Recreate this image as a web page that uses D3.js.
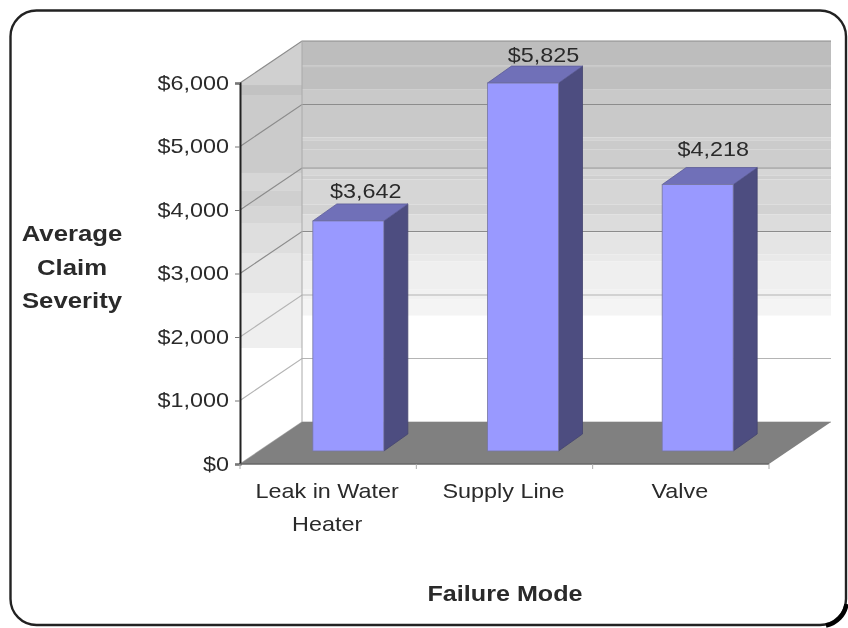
<!DOCTYPE html>
<html><head><meta charset="utf-8">
<script src="https://cdn.jsdelivr.net/npm/d3@7/dist/d3.min.js"></script>
<style>html,body{margin:0;background:#fff}svg{display:block;filter:blur(.75px)}text{font-family:"Liberation Sans",Arial,sans-serif;fill:#2a2a2a}</style>
</head><body><svg id="c" width="848" height="628"></svg>
<script>
const categories = ["Leak in Water Heater", "Supply Line", "Valve"];
const categoryLines = [["Leak in Water", "Heater"], ["Supply Line"], ["Valve"]];
const severity = [3642, 5825, 4218];
const tickValues = [0, 1000, 2000, 3000, 4000, 5000, 6000];
const yTitle = ["Average", "Claim", "Severity"];
const xTitle = "Failure Mode";
// wall shading: value at which each band starts (top to bottom) and its grey
const bandStarts = [6000, 5621, 5590, 5242, 4484, 4437, 4295, 4011, 3884, 3821, 3426, 3268, 2984, 2637, 2526, 2084, 1926, 1674];
const bandGreys = ["#bdbdbd", "#c8c8c8", "#bfbfbf", "#c9c9c9", "#d2d2d2", "#cbcbcb", "#cdcdcd", "#d6d6d6", "#cfcfcf", "#d6d6d6", "#d2d2d2", "#dcdcdc", "#e5e5e5", "#e9e9e9", "#efefef", "#f1f1f1", "#f4f4f4", "#ffffff"];
const sideStarts = [6000, 5968, 5811, 4583, 4300, 4050, 3795, 3323, 2693, 1827];
const sideGreys = ["#d0d0d0", "#c2c2c2", "#cbcbcb", "#d6d6d6", "#cfcfcf", "#d6d6d6", "#dedede", "#e6e6e6", "#efefef", "#ffffff"];
// small per-label nudges
const labelRise = [6, 4, 12];
const labelShift = [53, 56, 51];

const svg = d3.select("#c");
const plotLeft = 240, plotRight = 769, depthX = 62, depthY = 42;
const stretch = 1.17;
const y = d3.scaleLinear().domain([0, 6000]).range([464, 83]);
const barH = d3.scaleLinear().domain([0, 6000]).range([0, 379]);
const x = d3.scaleBand().domain(categories).range([plotLeft - 1, plotRight - 1]);
const barX = d3.scaleBand().domain(categories).range([261, 785]);
const barW = 71, barDX = 24, barDY = 17, barBase = 451;

// frame
svg.append("rect").attr("x", 10.5).attr("y", 10.5).attr("width", 835.5).attr("height", 614.5).attr("rx", 26)
  .attr("fill", "#fff").attr("stroke", "#222").attr("stroke-width", 2.4);
svg.append("path").attr("d", "M 826 625.5 A 26 26 0 0 0 846.5 604").attr("fill", "none").attr("stroke", "#000").attr("stroke-width", 4.5);

const pts = a => a.map(p => p.join(",")).join(" ");
const label = (px, py, t, size, bold) => svg.append("text").attr("text-anchor", "middle")
  .attr("transform", `translate(${px},${py}) scale(${stretch},1)`).attr("font-size", size)
  .attr("font-weight", bold ? "bold" : "normal").text(t);

// back wall bands
bandStarts.forEach((v, i) => {
  const next = i + 1 < bandStarts.length ? bandStarts[i + 1] : 0;
  svg.append("rect").attr("x", plotLeft + depthX).attr("width", plotRight - plotLeft)
    .attr("y", y(v) - depthY).attr("height", y(next) - y(v)).attr("fill", bandGreys[i]);
});
// side wall bands (horizontal, clipped to parallelogram)
svg.append("clipPath").attr("id", "side").append("polygon")
  .attr("points", pts([[plotLeft, y(6000)], [plotLeft + depthX, y(6000) - depthY], [plotLeft + depthX, y(0) - depthY], [plotLeft, y(0)]]));
const sideG = svg.append("g").attr("clip-path", "url(#side)");
sideStarts.forEach((v, i) => {
  const next = i + 1 < sideStarts.length ? sideStarts[i + 1] : 0;
  sideG.append("rect").attr("x", plotLeft).attr("width", depthX)
    .attr("y", i === 0 ? y(v) - depthY : y(v)).attr("height", i === 0 ? y(next) - y(v) + depthY : y(next) - y(v)).attr("fill", sideGreys[i]);
});

// gridlines
tickValues.forEach(v => {
  svg.append("polyline").attr("fill", "none").attr("stroke", v >= 3000 ? "#8c8c8c" : "#b4b4b4").attr("stroke-width", 1.2)
    .attr("points", pts([[plotLeft, y(v)], [plotLeft + depthX, y(v) - depthY], [plotRight + depthX, y(v) - depthY]]));
});
svg.append("line").attr("x1", plotLeft + depthX).attr("x2", plotLeft + depthX).attr("y1", y(6000) - depthY).attr("y2", y(0) - depthY).attr("stroke", "#aaa");

// floor
svg.append("polygon").attr("fill", "#808080").attr("points", pts([[plotLeft, y(0)], [plotRight, y(0)], [plotRight + depthX, y(0) - depthY], [plotLeft + depthX, y(0) - depthY]]));

// bars
const g = svg.selectAll("g.bar").data(categories).join("g").attr("class", "bar");
const bx = d => barX(d) + (barX.bandwidth() - barW) / 2;
const by = v => barBase - barH(v);
g.append("polygon").attr("fill", "#4d4d80").attr("stroke", "#44446f").attr("stroke-width", .8)
  .attr("points", (d, i) => pts([[bx(d) + barW, barBase], [bx(d) + barW + barDX, barBase - barDY], [bx(d) + barW + barDX, by(severity[i]) - barDY], [bx(d) + barW, by(severity[i])]]));
g.append("polygon").attr("fill", "#7070b8").attr("stroke", "#5c5c98").attr("stroke-width", .8)
  .attr("points", (d, i) => pts([[bx(d), by(severity[i])], [bx(d) + barW, by(severity[i])], [bx(d) + barW + barDX, by(severity[i]) - barDY], [bx(d) + barDX, by(severity[i]) - barDY]]));
g.append("rect").attr("fill", "#9999ff").attr("stroke", "#77779f").attr("stroke-width", .8)
  .attr("x", d => bx(d)).attr("width", barW).attr("y", (d, i) => by(severity[i])).attr("height", (d, i) => barBase - by(severity[i]));
categories.forEach((c, i) => label(bx(c) + labelShift[i], by(severity[i]) - barDY - labelRise[i], d3.format("$,")(severity[i]), 20));

// y axis
const axisY = d3.axisLeft(y).tickValues(tickValues).tickFormat(d3.format("$,")).tickSize(5).tickPadding(4);
const ya = svg.append("g").attr("transform", `translate(${plotLeft},0)`).call(axisY);
ya.select(".domain").attr("stroke", "#222").attr("stroke-width", 2);
ya.selectAll(".tick line").attr("stroke", "#777");
ya.selectAll("text").attr("font-size", 20).attr("fill", "#2a2a2a").style("font-family", '"Liberation Sans"')
  .attr("x", -9.3).attr("transform", `scale(${stretch},1)`);

// x axis baseline and ticks
const edges = d3.range(categories.length + 1).map(i => plotLeft + i * (plotRight - plotLeft) / categories.length);
svg.append("line").attr("x1", plotLeft).attr("x2", plotRight).attr("y1", y(0)).attr("y2", y(0)).attr("stroke", "#666").attr("stroke-width", 1.5);
edges.forEach(e => svg.append("line").attr("x1", e).attr("x2", e).attr("y1", y(0)).attr("y2", y(0) + 5).attr("stroke", "#aaa"));

// x labels
categories.forEach((c, i) => categoryLines[i].forEach((t, j) => {
  label(x(c) + x.bandwidth() / 2, 498 + j * 33, t, 20);
}));

// titles
yTitle.forEach((t, i) => label(72, 241 + i * 33.5, t, 22, true));
label(505, 601, xTitle, 21.5, true);
</script></body></html>
